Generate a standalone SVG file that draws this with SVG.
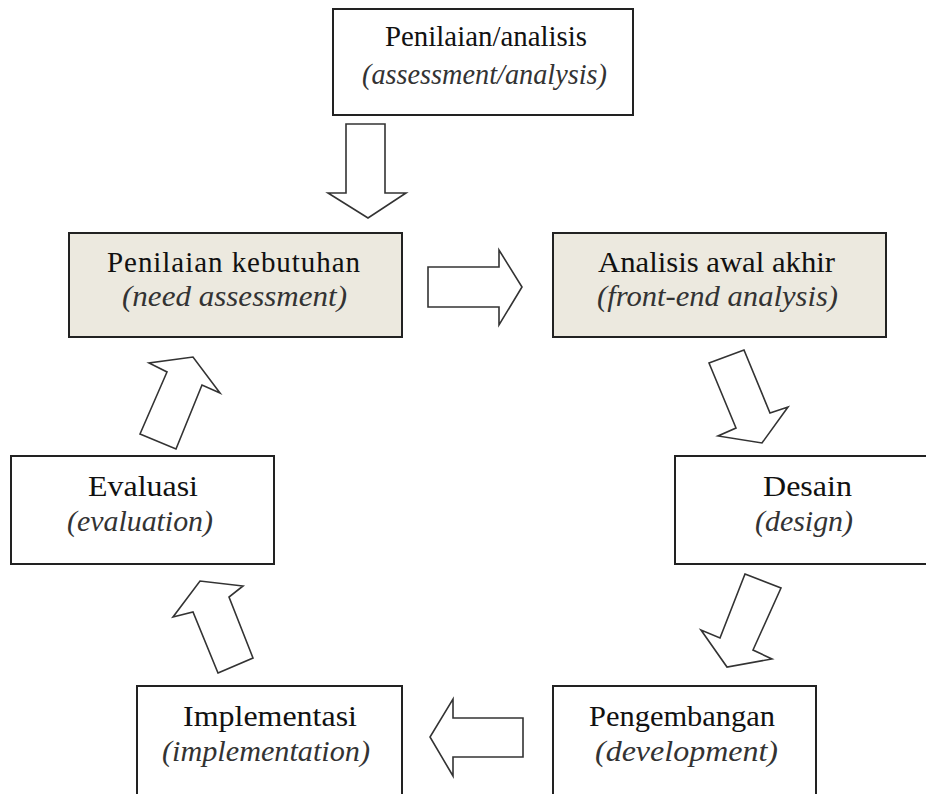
<svg xmlns="http://www.w3.org/2000/svg" width="926" height="794" viewBox="0 0 926 794">
<style>
.box{fill:#ffffff;stroke:#222;stroke-width:2}
.shade{fill:#ECE9DF;stroke:#222;stroke-width:2}
.t{font-family:"Liberation Serif","Times New Roman",serif;font-size:29px;fill:#111;text-anchor:middle}
.i{font-family:"Liberation Serif","Times New Roman",serif;font-size:29px;font-style:italic;fill:#333;text-anchor:middle}
.arr{fill:#ffffff;stroke:#333;stroke-width:1.6;stroke-linejoin:miter}
</style>
<rect width="926" height="794" fill="#ffffff"/>
<g id="node-assessment">
<rect class="box" x="333" y="9" width="300" height="106"/>
<text class="t" x="486" y="46" textLength="202" lengthAdjust="spacingAndGlyphs">Penilaian/analisis</text>
<text class="i" x="484.5" y="84" textLength="245" lengthAdjust="spacingAndGlyphs">(assessment/analysis)</text>
</g>
<g id="node-need">
<rect class="shade" x="69" y="233" width="333" height="104"/>
<text class="t" x="233.5" y="272" textLength="253" lengthAdjust="spacing">Penilaian  kebutuhan</text>
<text class="i" x="234.5" y="306" textLength="225" lengthAdjust="spacingAndGlyphs">(need assessment)</text>
</g>
<g id="node-frontend">
<rect class="shade" x="553" y="233" width="333" height="104"/>
<text class="t" x="716.5" y="272" textLength="237" lengthAdjust="spacingAndGlyphs">Analisis awal akhir</text>
<text class="i" x="717.5" y="306" textLength="241" lengthAdjust="spacingAndGlyphs">(front-end analysis)</text>
</g>
<g id="node-evaluasi">
<rect class="box" x="11" y="456" width="263" height="108"/>
<text class="t" x="143" y="496" textLength="110" lengthAdjust="spacingAndGlyphs">Evaluasi</text>
<text class="i" x="140" y="531" textLength="146" lengthAdjust="spacingAndGlyphs">(evaluation)</text>
</g>
<g id="node-desain">
<rect class="box" x="675" y="456" width="264" height="108"/>
<text class="t" x="807.5" y="496" textLength="89" lengthAdjust="spacingAndGlyphs">Desain</text>
<text class="i" x="804" y="531" textLength="98" lengthAdjust="spacingAndGlyphs">(design)</text>
</g>
<g id="node-implementasi">
<rect class="box" x="137" y="686" width="265" height="120"/>
<text class="t" x="270" y="726" textLength="174" lengthAdjust="spacingAndGlyphs">Implementasi</text>
<text class="i" x="266" y="761" textLength="208" lengthAdjust="spacingAndGlyphs">(implementation)</text>
</g>
<g id="node-pengembangan">
<rect class="box" x="553" y="686" width="263" height="120"/>
<text class="t" x="682" y="726" textLength="186" lengthAdjust="spacingAndGlyphs">Pengembangan</text>
<text class="i" x="686.5" y="761" textLength="183" lengthAdjust="spacingAndGlyphs">(development)</text>
</g>
<g id="connectors">
<polygon class="arr" points="346,124 385,124 385,193 406,193 368,218 328,193 346,193"/>
<polygon class="arr" points="428,267 499,267 499,250 522,287 499,325 499,307 428,307"/>
<polygon class="arr" points="709,363 744,350 770,413 788,407 762,443 718,436 736,428"/>
<polygon class="arr" points="745,574 781,588 753,650 772,659 727,667 701,630 720,638"/>
<polygon class="arr" points="523,718 453,718 453,699 430,737 453,776 453,757 523,757"/>
<polygon class="arr" points="218,673 253,658 229,597 243,586 200,581 173,617 193,612"/>
<polygon class="arr" points="140,434 176,449 202,385 220,393 193,357 149,363 167,372"/>
</g>
</svg>
